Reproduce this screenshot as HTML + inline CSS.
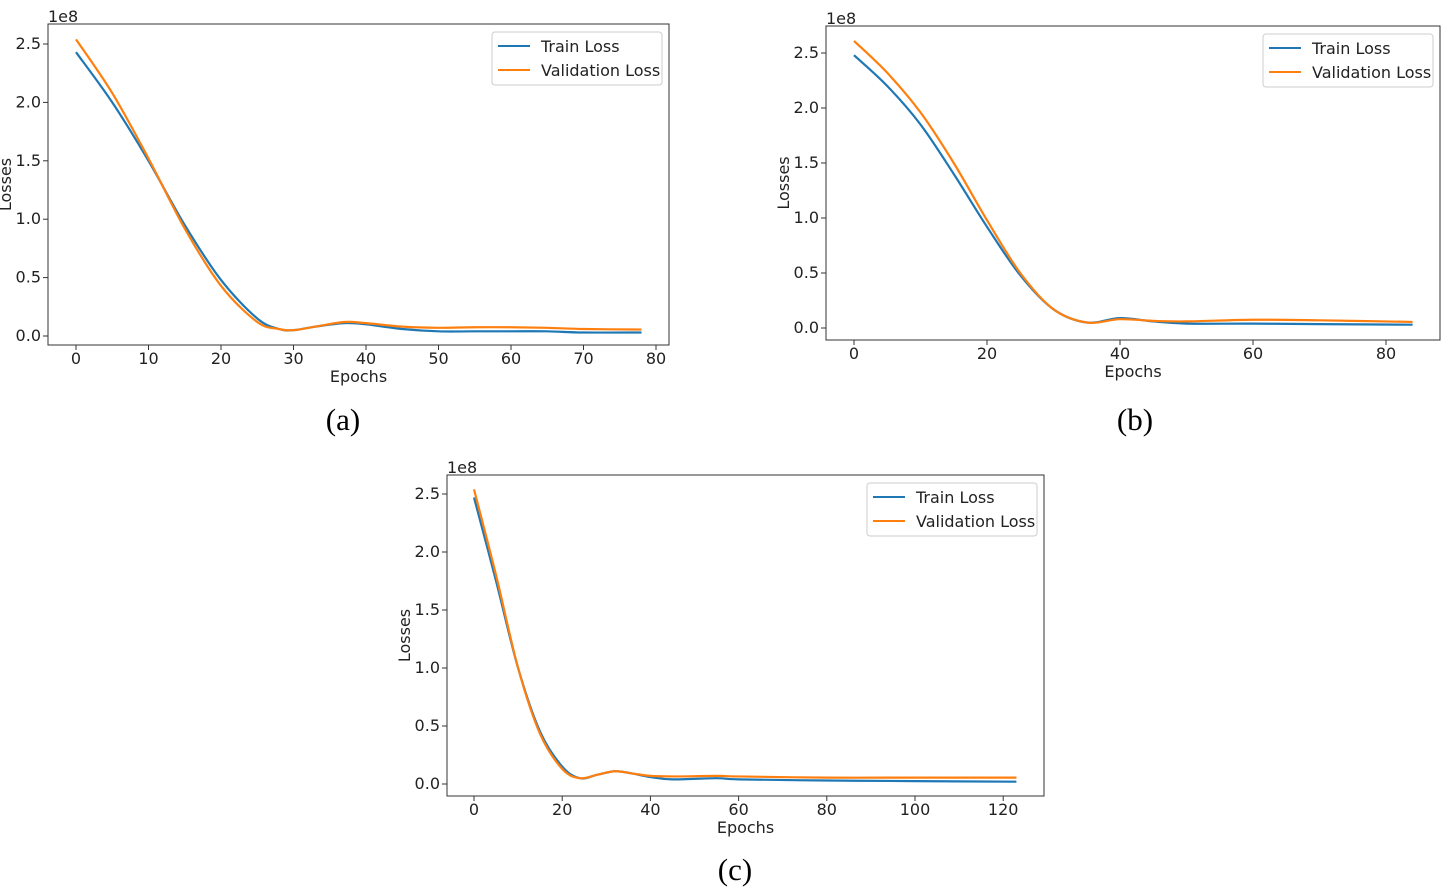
<!DOCTYPE html>
<html><head><meta charset="utf-8"><style>
body{margin:0;background:#fff;width:1449px;height:895px;overflow:hidden}
svg{display:block}
text{font-family:"DejaVu Sans","Liberation Sans",sans-serif;fill:#222}
.cap{font-family:"Liberation Serif",serif;font-size:31px;fill:#000}
</style></head><body>
<svg id="s" width="1449" height="895"></svg>
<script>
const aEpochs=[0,5,10,15,20,25,28,30,33,37,40,45,50,55,60,65,70,78];
const aTrain=[2.43,2.0,1.5,0.95,0.48,0.15,0.06,0.05,0.08,0.11,0.10,0.06,0.04,0.04,0.04,0.04,0.03,0.03];
const aVal=[2.54,2.08,1.52,0.92,0.43,0.12,0.06,0.05,0.08,0.12,0.11,0.08,0.07,0.075,0.075,0.07,0.06,0.055];
const bEpochs=[0,5,10,15,20,25,30,35,40,45,50,60,70,84];
const bTrain=[2.48,2.2,1.85,1.4,0.92,0.48,0.17,0.05,0.09,0.06,0.04,0.04,0.035,0.03];
const bVal=[2.61,2.32,1.96,1.5,0.98,0.5,0.17,0.05,0.08,0.065,0.06,0.075,0.07,0.055];
const cEpochs=[0,5,10,15,20,24,28,32,36,40,45,55,60,80,100,123];
const cTrain=[2.47,1.75,1.0,0.45,0.15,0.05,0.08,0.11,0.09,0.06,0.04,0.05,0.04,0.03,0.025,0.02];
const cVal=[2.54,1.8,1.0,0.43,0.13,0.05,0.08,0.11,0.09,0.07,0.065,0.07,0.065,0.055,0.055,0.055];
const yTicks=["0.0","0.5","1.0","1.5","2.0","2.5"];
const aXTicks=[0,10,20,30,40,50,60,70,80];
const bXTicks=[0,20,40,60,80];
const cXTicks=[0,20,40,60,80,100,120];
const NS="http://www.w3.org/2000/svg";
const svg=document.getElementById('s');
function mk(tag,attrs,parent,txt){const e=document.createElementNS(NS,tag);for(const k in attrs)e.setAttribute(k,attrs[k]);if(txt!==undefined)e.textContent=txt;(parent||svg).appendChild(e);return e;}
function smooth(pts){let d="M"+pts[0][0]+","+pts[0][1];for(let i=0;i<pts.length-1;i++){const p0=pts[Math.max(0,i-1)],p1=pts[i],p2=pts[i+1],p3=pts[Math.min(pts.length-1,i+2)];const c1=[p1[0]+(p2[0]-p0[0])/6,p1[1]+(p2[1]-p0[1])/6],c2=[p2[0]-(p3[0]-p1[0])/6,p2[1]-(p3[1]-p1[1])/6];d+=" C"+c1[0]+","+c1[1]+" "+c2[0]+","+c2[1]+" "+p2[0]+","+p2[1];}return d;}
function chart(cfg){
 const g=mk('g',{});
 
 
 const X=v=>cfg.x0+v*cfg.xs, Y=v=>cfg.y0-v*cfg.ys;
 const fr=mk('rect',{x:cfg.L,y:cfg.T,width:cfg.R-cfg.L,height:cfg.B-cfg.T,fill:'none',stroke:'#333','stroke-width':1},g);
 
 yTicks.forEach((t,i)=>{const y=Y(i*0.5);mk('line',{x1:cfg.L-5,x2:cfg.L,y1:y,y2:y,stroke:'#333'},g);
  const tx=mk('text',{x:cfg.L-7,y:y+5,'text-anchor':'end','font-size':16},g,t);});
 cfg.xt.forEach(t=>{const x=X(t);mk('line',{x1:x,x2:x,y1:cfg.B,y2:cfg.B+5,stroke:'#333'},g);
  const tx=mk('text',{x:x,y:cfg.B+19,'text-anchor':'middle','font-size':16},g,t);});
 let t=mk('text',{x:cfg.L,y:cfg.T-2,'font-size':16},g,'1e8');
 t=mk('text',{x:(cfg.L+cfg.R)/2,y:cfg.B+37,'text-anchor':'middle','font-size':16},g,'Epochs');
 const yc=(cfg.T+cfg.B)/2;
 t=mk('text',{x:cfg.L-37,y:yc,'text-anchor':'middle','font-size':16,transform:`rotate(-90 ${cfg.L-37} ${yc})`},g,'Losses');
 [[cfg.tr,'#1f77b4','train-loss-line'],[cfg.va,'#ff7f0e','validation-loss-line']].forEach(([arr,col,nm])=>{
  const p=mk('path',{d:smooth(cfg.ep.map((e,i)=>[X(e),Y(arr[i])])),fill:'none',stroke:col,'stroke-width':2.2},g);
  });
 const lx=cfg.R-177, ly=cfg.T+8;
 const lg=mk('rect',{x:lx,y:ly,width:170,height:53,fill:'#fff',stroke:'#ccc',rx:3},g);
 
 mk('line',{x1:lx+6,x2:lx+38,y1:ly+14,y2:ly+14,stroke:'#1f77b4','stroke-width':2},g);
 t=mk('text',{x:lx+49,y:ly+20,'font-size':16},g,'Train Loss');
 mk('line',{x1:lx+6,x2:lx+38,y1:ly+38,y2:ly+38,stroke:'#ff7f0e','stroke-width':2},g);
 t=mk('text',{x:lx+49,y:ly+44,'font-size':16},g,'Validation Loss');
 t=mk('text',{x:cfg.cx,y:cfg.cy,'text-anchor':'middle',class:'cap'},g,cfg.cap);
}
chart({name:'chart-a',L:48,R:669,T:24,B:345,x0:76,xs:7.25,y0:336,ys:116.8,xt:aXTicks,ep:aEpochs,tr:aTrain,va:aVal,cap:'(a)',cx:343,cy:430});
chart({name:'chart-b',L:826,R:1440,T:26,B:340,x0:854,xs:6.65,y0:328,ys:110,xt:bXTicks,ep:bEpochs,tr:bTrain,va:bVal,cap:'(b)',cx:1135,cy:430});
chart({name:'chart-c',L:447,R:1044,T:475,B:796,x0:474,xs:4.41,y0:784,ys:116,xt:cXTicks,ep:cEpochs,tr:cTrain,va:cVal,cap:'(c)',cx:735,cy:880});
</script>
</body></html>
